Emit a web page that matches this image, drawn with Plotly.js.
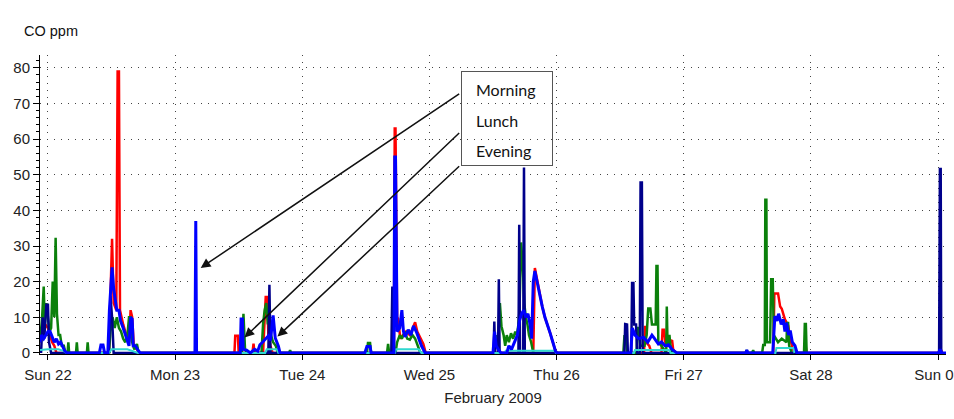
<!DOCTYPE html>
<html>
<head>
<meta charset="utf-8">
<script src="https://cdn.plot.ly/plotly-3.0.1.min.js"></script>
<style>html,body{margin:0;padding:0;background:#fff;}#chart{width:954px;height:419px;}</style>
</head>
<body>
<div id="chart"></div>
<script>
// Hours since Sun 22 Feb 2009 00:00
const dayTicks = [0, 24, 48, 72, 96, 120, 144, 168];
const dayLabels = ['Sun 22', 'Mon 23', 'Tue 24', 'Wed 25', 'Thu 26', 'Fri 27', 'Sat 28', 'Sun 01'];
const yTicks = [0, 10, 20, 30, 40, 50, 60, 70, 80];

const redHours = [-1.5,-1.0,-0.5,0.0,0.4,0.8,1.2,1.6,
  11.5,11.8,12.1,12.4,12.9,13.15,13.4,13.6,14.2,14.8,15.3,15.6,15.9,16.2,16.8,17.2,
  35.2,35.35,35.85,36.0, 38.6,38.8,39.0, 40.6,40.9,41.1,41.4,41.6,42.0,42.4,
  65.3,65.45,65.6,65.9,66.1,66.5,67.0,67.6,68.3,68.8,69.3,69.7,70.3,70.85,71.3,
  91.6,91.9,92.3,92.8,93.3,93.8,94.3,94.8,95.3,95.8,96.1,
  112.5,112.7,112.9,113.5,113.9, 115.8,116.0,116.3,116.6,117.8,118.0,118.5,
  136.9,137.1,137.8,138.2,138.5,139.1,139.7,140.1,140.6,141.0, 142.8,143.0,143.2,
  168.1,168.4,168.8];
const redCO = [3,6,8,7,5,3,2,0,
  0,20,32,14,12,79,79,12,8,5,3,12,10,2,1,0,
  0,4.8,4.8,0, 0,2.6,0, 0,12,15.7,15.7,5,2,0,
  0,63,63,10,9.6,4,5,6,5,7,8.6,6,4,2.5,0,
  0,23.8,20.5,16,13,10,8,5.5,3,0.5,0,
  0,7.6,3,2,0, 0,6.5,6.5,2,3.6,1,0,
  0,16.7,16.7,13,12.4,9.4,7.7,4,1,0, 0,2,0,
  0,1.5,0];

const greenHours = [-1.5,-1.1,-0.8,-0.6,-0.3,0.0,0.3,0.6,0.9,1.2,1.45,1.7,2.0,2.3,2.6,3.0,3.3,
  3.7,3.85,4.0, 5.3,5.45,5.6, 7.35,7.5,7.65,
  11.5,11.8,12.2,12.6,13.0,13.4,13.8,14.2,14.6,15.0,15.3,15.6,15.9,16.3,16.8,17.1,
  36.6,36.9,37.2,37.6, 40.3,40.6,40.9,41.2,41.5,41.8,42.1,42.5,43.0,43.4, 45.5,45.7,45.9,
  60.2,60.4,60.8,61.0, 64.0,64.2,64.4,
  65.6,65.9,66.4,66.8,67.4,67.8,68.3,68.8,69.3,69.8,70.3,
  84.0,84.3,84.6,85.0,85.3,85.6,86.0,86.3,86.6,87.0,87.4,87.8,88.2,88.5,88.8,89.0,89.3,89.6,89.9,90.2,90.5,90.8,91.2,91.6,
  108.6,108.8,109.1,109.3,
  111.1,111.3,111.6,111.8,112.6,113.0,113.3,113.7,114.0,114.7,114.85,115.05,115.2,115.8,116.7,116.8,116.95,117.3,117.5,117.8,
  131.7,131.9,132.1, 132.9,133.1,133.3,
  134.8,135.0,135.3,135.4,135.6,135.7,136.3,136.5,136.8,137.0,137.8,138.5,139.4,139.5,139.7,139.9,140.4,
  142.7,142.85,143.05,143.2];
const greenCO = [3,10,18.6,8,14,10,6,7,20,10,32.3,11,5,5,2,2,0,
  0,3,0, 0,3,0, 0,3,0,
  0,6,10,7,10,7,6,4,3,5,10,10,3,1,2.5,0,
  0,11,1,0, 0,8,12,14,8,12,5,3,2,0, 0,0.8,0,
  0,2.8,2.8,0, 0,2.5,0,
  0,3,5,4,6,4,3.7,5,4,2,0,
  0,3,5,3,14,7.5,5,2,5,3,5.5,4,6,5,8,12,31,25,14,10,8,5,3,0,
  0,4.7,4.7,0,
  0,7,7,2,2,5,12.5,12.5,8,8,24.4,24.4,3,2,0,13,2,5.1,2,0,
  0,0.8,0, 0,0.8,0,
  0,2.2,2.2,43,43,3,3,20.7,20.7,5,3,4,3,8.4,8.4,2,0,
  0,8.1,8.1,0];

const navyHours = [-1.3,-1.0,-0.7,-0.3,0.0,0.2,0.6, 11.5,11.8,12.1,12.4,
  41.6,41.8,42.0, 64.8,65.0,65.2,
  84.1,84.25,84.4,84.95,85.1,85.25,88.8,88.95,89.1,89.7,89.85,90.0,
  108.8,108.95,109.3,109.45,110.1,110.25,110.5,110.65,111.0,111.2,111.7,111.85,112.1,112.25,
  168.2,168.35,168.5,168.6];
const navyCO = [0,10,4,13.5,13.5,3,0, 0,16,10,0,
  0,19.1,0, 0,18.6,0,
  0,8.8,0,0,20.7,0,0,36,0,0,52,0,
  0,8.1,8,0,0,19.6,19.6,8,8,0,0,47.8,47.8,0,
  0,51.6,51.6,0];

const cyanHours = [-1.5,0.0,2.0,3.0,3.5, 11.5,12.0,15.0,17.0, 41.0,41.3,43.2,43.5,
  65.5,65.7,70.0,70.5, 86.2,86.4,95.7,95.9, 110.6,110.8,117.3,117.5, 137.3,137.5,140.7,140.9];
const cyanCO = [0.8,1,1,0.5,0, 0,1,1,0, 0,1,1,0,
  0,1,1,0, 0,0.6,0.6,0, 0,0.8,0.8,0, 0,1.4,1.4,0];

const blueHours = [-1.5,-1.2,-0.8,-0.4,0.0,0.4,0.8,1.2,1.6,2.0,2.4,2.8,3.2,3.6,
  9.7,10.0,10.4,10.7,
  11.3,11.6,11.9,12.1,12.4,12.7,13.0,13.4,13.7,14.2,14.5,14.9,15.3,15.6,15.9,16.1,16.5,17.0,17.4,
  27.75,27.9,28.05,
  36.3,36.45,36.7,36.85,37.5,38.2,39.0,39.6,40.0,40.5,41.0,41.6,42.0,42.5,42.9,43.5,43.8,
  59.8,60.2,60.8,61.0,
  65.3,65.45,65.6,65.9,66.4,66.8,67.1,67.4,68.0,68.5,69.0,69.6,70.0,70.5,71.2,
  84.0,84.3,84.6,85.0,85.5,86.6,87.0,87.5,88.0,88.6,89.0,89.4,89.8,90.2,90.6,91.0,91.3,91.6,91.9,92.3,92.8,93.3,93.8,94.3,94.8,95.3,95.8,96.1,
  110.0,110.3,110.8,111.5,112.4,113.2,114.0,114.5,115.2,115.8,116.5,117.1,117.8,118.7,
  131.7,131.9,132.1,
  136.8,137.2,137.6,137.9,138.4,138.8,139.1,139.4,139.8,140.1,140.5,141.0,141.4,
  168.1,168.4,168.7,169.6];
const blueCO = [3,5,4,5,6,6,4.5,3,4,2.5,3,1.5,0.5,0,
  0,2.2,2.2,0,
  0,12,20,24,18,15,12,12,9,7,5.5,4,2,10,9.5,2,2,0.8,0,
  0,37,0,
  0,9.5,9.5,1,0.8,0,1,0.5,2.3,3,3.8,4.8,3.5,10.5,4.2,1.9,0,
  0,1.8,1.8,0,
  0,55,55,6,7,12,6,4.5,6.5,5,7.6,5.7,4,2,0,
  0,6,2,1,0,0,2,1,3,5,9,11,12,10,11,8,4,20,23,20,16,13,10,8,5.5,3,0.5,0,
  0,7,5,4,4.4,3,5,4,2.5,3.1,2,2.3,1,0,
  0,0.8,0,
  0,10.3,9,11,8,9.4,6,8.5,5,6.3,3,2,0,
  0,1,0,0];

const mealLabels = ['Morning', 'Lunch', 'Evening'];

const FONT = 'Liberation Sans, Arial, sans-serif';
function series(x, y, color, width) {
  return {x: x, y: y, type: 'scatter', mode: 'lines', line: {color: color, width: width}, hoverinfo: 'skip'};
}
const traces = [
  series(redHours, redCO, '#ff0000', 2.5),
  series(greenHours, greenCO, '#0b800b', 2.5),
  series(navyHours, navyCO, '#00008b', 2.5),
  series(cyanHours, cyanCO, '#30d8d0', 2),
  series(blueHours, blueCO, '#0000ff', 3)
];

const xLeft = 40, plotW = 954 - 40 - 8, yBottom = 354, plotH = 354 - 55;
const px = v => (v - xLeft) / plotW;
const py = v => (yBottom - v) / plotH;

const annotations = [
  {xref: 'paper', yref: 'paper', x: px(22), y: py(31), xanchor: 'left', yanchor: 'middle',
   text: 'CO ppm', showarrow: false, font: {family: FONT, size: 14.5, color: '#111'}},
  {xref: 'paper', yref: 'paper', x: px(507), y: py(118.4), xanchor: 'center', yanchor: 'middle',
   text: ' ', showarrow: false, width: 90, height: 93, borderpad: 0, borderwidth: 1, bordercolor: '#555', bgcolor: 'rgba(255,255,255,0)'}
];
const labelY = [89, 121, 150];
mealLabels.forEach((t, i) => annotations.push({xref: 'paper', yref: 'paper', x: px(474), y: py(labelY[i]),
  xanchor: 'left', yanchor: 'middle', text: t, showarrow: false,
  font: {family: 'Lato, Open Sans, sans-serif', size: 16, color: '#111'}}));
// arrows: tail at box edge, head at the meal events
const arrows = [
  {x: 28.83, y: 23.86, ax: 77.9, ay: 72.98},
  {x: 37.09, y: 4.35, ax: 77.9, ay: 62.12},
  {x: 43.32, y: 4.58, ax: 77.9, ay: 52.77}
];
arrows.forEach(a => annotations.push({xref: 'x', yref: 'y', axref: 'x', ayref: 'y', x: a.x, y: a.y, ax: a.ax, ay: a.ay,
  text: '', showarrow: true, arrowhead: 2, arrowsize: 1.3, arrowwidth: 1.5, arrowcolor: '#111', standoff: 0, startstandoff: 0}));

const layout = {
  width: 954, height: 419,
  margin: {l: 40, r: 8, t: 55, b: 65},
  paper_bgcolor: '#ffffff', plot_bgcolor: '#ffffff',
  showlegend: false,
  xaxis: {
    range: [-1.5, 169.5], tickmode: 'array', tickvals: dayTicks, ticktext: dayLabels,
    ticks: 'outside', ticklen: 5, tickcolor: '#000', tickwidth: 1,
    showline: true, linecolor: '#000', linewidth: 1,
    showgrid: true, gridcolor: '#444', gridwidth: 1, griddash: '1px,6px', zeroline: false,
    tickfont: {family: FONT, size: 15, color: '#222'}, ticklabelstandoff: 2, ticklabeloverflow: 'allow',
    title: {text: 'February 2009', font: {family: FONT, size: 15, color: '#222'}, standoff: 10},
    automargin: false
  },
  yaxis: {
    range: [-0.3, 83.6], tickmode: 'array', tickvals: yTicks,
    ticks: 'outside', ticklen: 6, tickcolor: '#000', tickwidth: 1,
    minor: {dtick: 2, tick0: 0, ticks: 'outside', ticklen: 3, tickcolor: '#000', showgrid: false},
    showline: true, linecolor: '#000', linewidth: 1,
    showgrid: true, gridcolor: '#444', gridwidth: 1, griddash: '1px,6px', zeroline: false,
    tickfont: {family: FONT, size: 15, color: '#222'}, ticklabeloverflow: 'allow',
    automargin: false
  },
  annotations: annotations
};

Plotly.newPlot('chart', traces, layout, {displayModeBar: false, staticPlot: true});
</script>
</body>
</html>
